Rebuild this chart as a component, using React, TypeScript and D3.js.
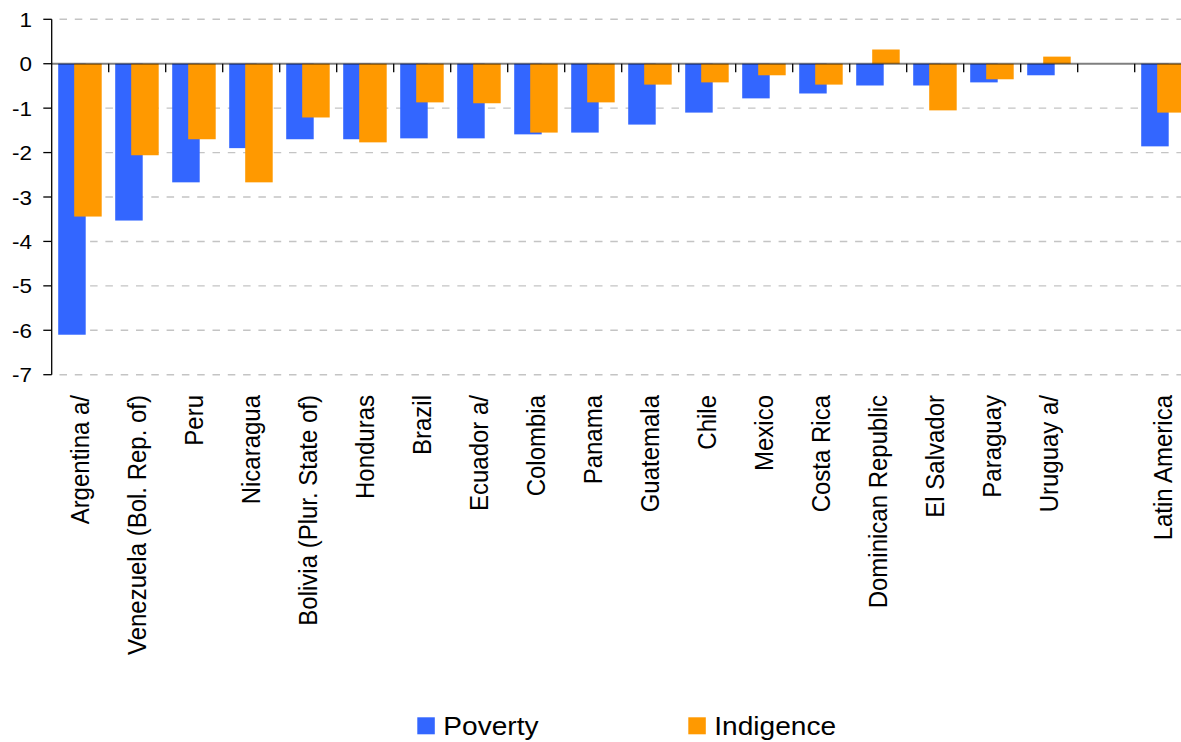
import React from "react";
import * as d3 from "d3";

const categories = [
  "Argentina a/",
  "Venezuela (Bol. Rep. of)",
  "Peru",
  "Nicaragua",
  "Bolivia (Plur. State of)",
  "Honduras",
  "Brazil",
  "Ecuador a/",
  "Colombia",
  "Panama",
  "Guatemala",
  "Chile",
  "Mexico",
  "Costa Rica",
  "Dominican Republic",
  "El Salvador",
  "Paraguay",
  "Uruguay a/",
  "",
  "Latin America",
];

const poverty: (number | null)[] = [
  -6.1, -3.53, -2.67, -1.9, -1.7, -1.7, -1.68, -1.68, -1.59, -1.55, -1.37, -1.1,
  -0.78, -0.67, -0.49, -0.49, -0.42, -0.26, null, -1.86,
];

const indigence: (number | null)[] = [
  -3.44, -2.06, -1.7, -2.67, -1.21, -1.77, -0.87, -0.89, -1.55, -0.87, -0.47,
  -0.42, -0.26, -0.47, 0.32, -1.05, -0.35, 0.16, null, -1.1,
];

const yTicks = [1, 0, -1, -2, -3, -4, -5, -6, -7];

const seriesNames = ["Poverty", "Indigence"];
const seriesColors = ["#3366FF", "#FF9900"];

const W = 1181;
const H = 742;
const FONT = "'Liberation Sans', Arial, Helvetica, sans-serif";
const SX = 1.06;

export default function App() {
  const keys = categories.map((c, i) => `${i}`);
  const x = d3.scaleBand<string>().domain(keys).range([51.7, 51.7 + 57 * 20]).padding(0);
  const y = d3.scaleLinear().domain([-7, 1]).range([374.7, 19.3]);
  const bw = x.bandwidth();
  const barW = 27.5;
  const offsets = [6.5, 22.5];
  const series = [poverty, indigence];
  const x0 = x.range()[0];

  return (
    <svg
      width={W}
      height={H}
      style={{ position: "absolute", left: 0, top: 0, background: "#fff" }}
      fontFamily={FONT}
    >
      <rect x={0} y={0} width={W} height={H} fill="#fff" />
      {/* gridlines */}
      {yTicks
        .filter((t) => t !== 0)
        .map((t) => (
          <line
            key={`g${t}`}
            x1={x0}
            x2={W}
            y1={y(t)}
            y2={y(t)}
            stroke="#c4c4c4"
            strokeWidth={1.4}
            strokeDasharray="7.5 7.8"
            strokeDashoffset={7.5}
          />
        ))}
      {/* bars */}
      {series.map((vals, si) =>
        vals.map((v, i) => {
          if (v === null) return null;
          const bx = (x(keys[i]) as number) + offsets[si];
          const yTop = y(Math.max(0, v));
          const yBot = y(Math.min(0, v));
          return (
            <rect
              key={`b${si}-${i}`}
              x={bx}
              y={yTop}
              width={barW}
              height={yBot - yTop}
              fill={seriesColors[si]}
            />
          );
        })
      )}
      {/* zero axis line */}
      <line x1={x0} x2={W} y1={y(0)} y2={y(0)} stroke="#000" strokeOpacity={0.5} strokeWidth={2} />
      {/* category ticks */}
      {keys.slice(1).map((k) => (
        <line
          key={`ct${k}`}
          x1={x(k) as number}
          x2={x(k) as number}
          y1={y(0)}
          y2={y(0) + 8.4}
          stroke="#000"
          strokeWidth={1.3}
        />
      ))}
      {/* y axis */}
      <line x1={x0} x2={x0} y1={y(1)} y2={y(-7)} stroke="#000" strokeWidth={1.3} />
      {yTicks.map((t) => (
        <g key={`yt${t}`}>
          <line x1={x0 - 8.4} x2={x0} y1={y(t)} y2={y(t)} stroke="#000" strokeWidth={1.3} />
          <text
            transform={`translate(32,${y(t)}) scale(1.07,1)`}
            dy="0.36em"
            textAnchor="end"
            fontSize={21}
            fill="#000"
          >
            {t}
          </text>
        </g>
      ))}
      {/* category labels */}
      {categories.map((c, i) => {
        if (!c) return null;
        const cx = (x(keys[i]) as number) + bw / 2;
        return (
          <text
            key={`cl${i}`}
            transform={`translate(${cx},395) scale(${SX},1) rotate(-90)`}
            dy="0.35em"
            textAnchor="end"
            fontSize={24}
            fill="#000"
          >
            {c}
          </text>
        );
      })}
      {/* legend */}
      {seriesNames.map((n, si) => {
        const lx = [417.3, 688.3][si];
        return (
          <g key={`lg${si}`}>
            <rect x={lx} y={717.3} width={17.5} height={17} fill={seriesColors[si]} />
            <text
              transform={`translate(${lx + 26},735) scale(${SX},1)`}
              fontSize={26.5}
              fill="#000"
            >
              {n}
            </text>
          </g>
        );
      })}
    </svg>
  );
}
